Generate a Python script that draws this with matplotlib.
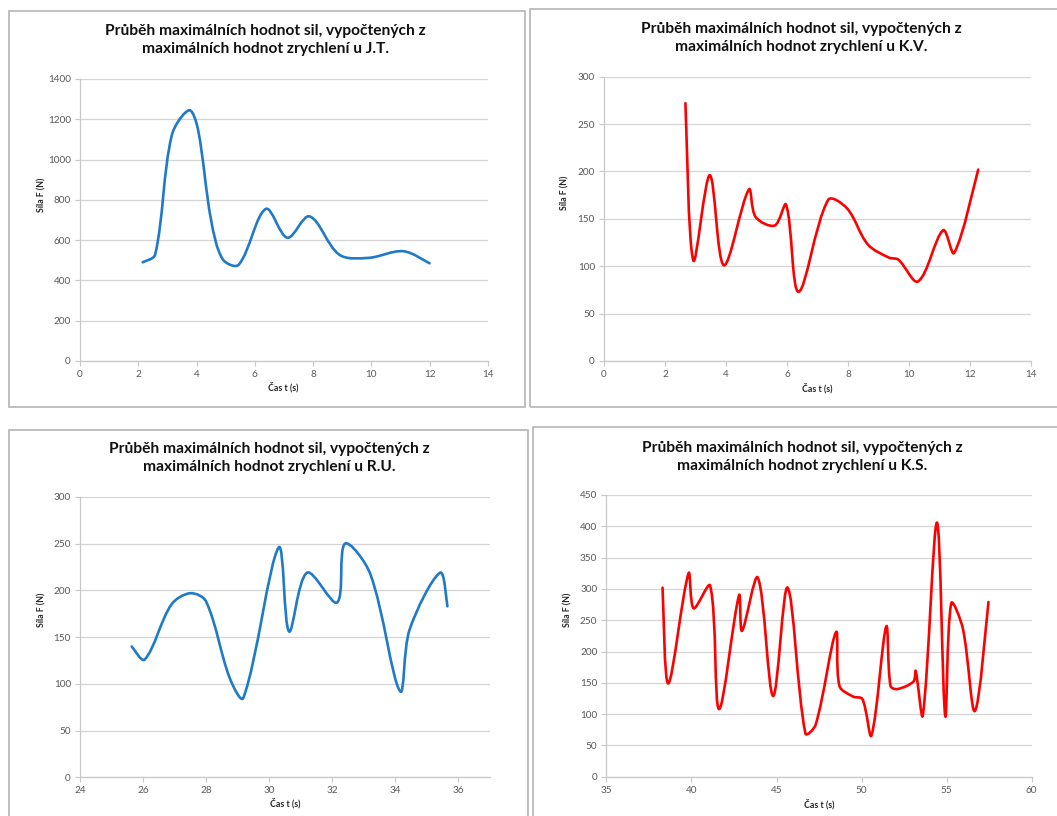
import numpy as np
import matplotlib
matplotlib.use("Agg")
import matplotlib.pyplot as plt
from matplotlib.path import Path
from matplotlib.patches import PathPatch, Rectangle

plt.rcParams["font.family"] = ["Lato", "DejaVu Sans"]

# --- data ---
jt_t = [2.15, 2.58, 3.15, 3.75, 4.05, 4.5, 4.9, 5.45, 6.38, 7.12, 7.88, 8.9, 9.9, 11.1, 12.0]
jt_f = [490, 528, 1120, 1245, 1150, 700, 505, 478, 755, 612, 718, 528, 512, 545, 485]

kv_t = [2.67, 2.93, 3.47, 3.93, 4.75, 4.97, 5.6, 5.97, 6.38, 7.35, 7.97, 8.65,
        9.35, 9.65, 10.3, 11.12, 11.48, 12.27]
kv_f = [272, 106, 196, 101, 181, 152, 143, 165, 73, 170, 161, 123,
        109, 107, 84, 138, 114, 202]

ru_t = [25.64, 26.05, 26.9, 27.5, 28.0, 28.75, 29.18, 30.3, 30.63, 31.2,
        32.15, 32.4, 33.2, 34.15, 34.45, 35.42, 35.65]
ru_f = [140, 126, 185, 197, 188, 106, 85, 246, 156, 219,
        187, 250, 218, 92, 158, 219, 183]

ks_t = [38.3, 38.64, 39.83, 40.13, 41.1, 41.62, 42.8, 42.97, 43.9, 44.8,
        45.65, 46.7, 47.3, 48.5, 48.7, 49.5, 50.05, 50.58, 51.45, 51.7,
        52.1, 53.05, 53.18, 53.6, 54.43, 54.92, 55.27, 55.95, 56.66, 57.46]
ks_f = [302, 149, 325, 269, 305, 108, 290, 233, 318, 129,
        302, 69, 83, 231, 145, 128, 124, 66, 240, 145,
        140, 152, 169, 98, 406, 97, 277, 237, 105, 279]

titles = [
    "Průběh maximálních hodnot sil, vypočtených z\nmaximálních hodnot zrychlení u J.T.",
    "Průběh maximálních hodnot sil, vypočtených z\nmaximálních hodnot zrychlení u K.V.",
    "Průběh maximálních hodnot sil, vypočtených z\nmaximálních hodnot zrychlení u R.U.",
    "Průběh maximálních hodnot sil, vypočtených z\nmaximálních hodnot zrychlení u K.S.",
]

W, H = 1057, 816
fig = plt.figure(figsize=(W / 100, H / 100), dpi=100)


def rect(x0, y0, x1, y1):
    """pixel box (top-left origin) -> figure fraction box"""
    return [x0 / W, 1 - y1 / H, (x1 - x0) / W, (y1 - y0) / H]


def smooth_path(ax, x, y):
    # Excel-like smoothed line: cubic Bezier through every point,
    # handles scaled by segment length (worked out in screen space)
    pts = ax.transData.transform(np.column_stack([x, y]).astype(float))
    n = len(pts)
    d = np.hypot(*np.diff(pts, axis=0).T)
    verts = [pts[0]]
    codes = [Path.MOVETO]
    for i in range(n - 1):
        p0 = pts[max(i - 1, 0)]
        p1 = pts[i]
        p2 = pts[i + 1]
        p3 = pts[min(i + 2, n - 1)]
        d01 = d[i - 1] if i > 0 else d[i]
        d12 = d[i]
        d23 = d[i + 1] if i + 1 < n - 1 else d[i]
        c1 = p1 + (p2 - p0) * d12 / (d01 + d12) / 3
        c2 = p2 - (p3 - p1) * d12 / (d12 + d23) / 3
        verts += [c1, c2, p2]
        codes += [Path.CURVE4] * 3
    verts = ax.transData.inverted().transform(np.array(verts))
    return Path(verts, codes)


panels = [
    dict(t=jt_t, f=jt_f, color="#1f7ac8", border=(8.5, 10.5, 525, 406.7),
         box=(80, 79, 487.8, 361), xlim=(0, 14), xt=np.arange(0, 15, 2),
         ylim=(0, 1400), yt=np.arange(0, 1401, 200),
         tc=(265, 40), yl=(42, 195), xl=(283, 387)),
    dict(t=kv_t, f=kv_f, color="#ff0000", border=(530, 8.5, 1062, 406.7),
         box=(604, 76.7, 1031, 361), xlim=(0, 14), xt=np.arange(0, 15, 2),
         ylim=(0, 300), yt=np.arange(0, 301, 50),
         tc=(801, 38), yl=(565, 193), xl=(817, 388)),
    dict(t=ru_t, f=ru_f, color="#1f7ac8", border=(8.5, 430, 527.7, 820),
         box=(80, 497, 490, 777.3), xlim=(24, 37), xt=np.arange(24, 37, 2),
         ylim=(0, 300), yt=np.arange(0, 301, 50),
         tc=(269, 458), yl=(42, 610), xl=(285, 803)),
    dict(t=ks_t, f=ks_f, color="#ff0000", border=(532.5, 426.8, 1062, 820),
         box=(606.4, 495, 1031.7, 776.7), xlim=(35, 60), xt=np.arange(35, 61, 5),
         ylim=(0, 450), yt=np.arange(0, 451, 50),
         tc=(802, 457), yl=(568, 610), xl=(819, 804)),
]

for p, title in zip(panels, titles):
    x0, y0, x1, y1 = p["border"]
    fig.patches.append(Rectangle((x0 / W, 1 - y1 / H), (x1 - x0) / W, (y1 - y0) / H,
                                 transform=fig.transFigure, fill=False,
                                 edgecolor="#b4b4b4", lw=1.2))

    ax = fig.add_axes(rect(*p["box"]))
    ax.set_xlim(*p["xlim"])
    ax.set_ylim(*p["ylim"])
    ax.set_xticks(p["xt"])
    ax.set_yticks(p["yt"])
    ax.grid(axis="y", color="#d4d4d4", lw=0.9)
    ax.set_axisbelow(True)
    for s in ["top", "right"]:
        ax.spines[s].set_visible(False)
    for s in ["left", "bottom"]:
        ax.spines[s].set_color("#c8c8c8")
        ax.spines[s].set_linewidth(0.9)
    ax.tick_params(colors="#c8c8c8", labelcolor="#595959", labelsize=7.2,
                   length=3.5, width=0.8, direction="out", pad=3)
    ax.patch.set_alpha(0)

    ax.add_patch(PathPatch(smooth_path(ax, p["t"], p["f"]), fill=False,
                           edgecolor=p["color"], lw=1.9, capstyle="round",
                           joinstyle="round"))

    cx, cy = p["tc"]
    fig.text(cx / W, 1 - cy / H, title, ha="center", va="center",
             fontsize=11.2, fontweight="bold", linespacing=1.38, color="#111111")
    fig.text(p["yl"][0] / W, 1 - p["yl"][1] / H, "Síla F (N)", rotation=90,
             ha="center", va="center", fontsize=6.3, fontweight="bold", color="#262626")
    fig.text(p["xl"][0] / W, 1 - p["xl"][1] / H, "Čas t (s)",
             ha="center", va="center", fontsize=6.3, fontweight="bold", color="#262626")

fig.savefig("out.png", dpi=100, facecolor="white")
